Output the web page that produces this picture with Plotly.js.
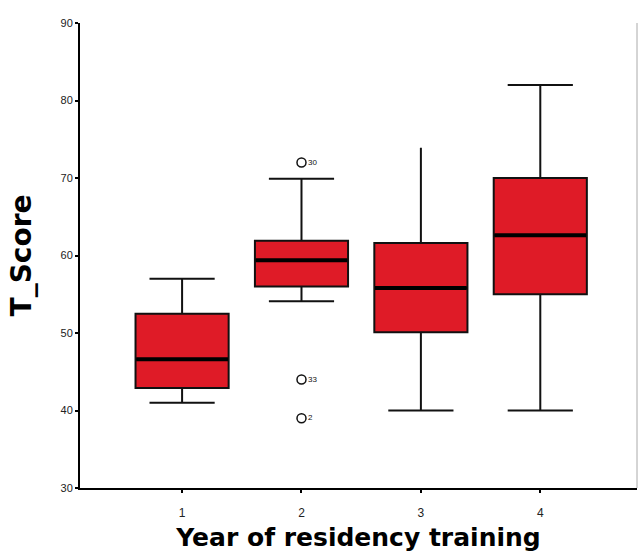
<!DOCTYPE html>
<html>
<head>
<meta charset="utf-8">
<script src="https://cdn.plot.ly/plotly-3.0.1.min.js"></script>
<style>html,body{margin:0;padding:0;background:#fff;}#chart{width:640px;height:559px;}</style>
</head>
<body>
<div id="chart"></div>
<script>
// Data
const categories = [1, 2, 3, 4];
const tickLabels = ['1', '2', '3', '4'];
const q1 = [42.9, 56.0, 50.1, 55.0];
const medians = [46.6, 59.4, 55.8, 62.6];
const q3 = [52.5, 61.9, 61.6, 70.0];
const lowerFence = [41.0, 54.1, 40.0, 40.0];
const upperFence = [57.0, 69.9, 73.9, 82.0];
const hasTopCap = [true, true, false, true];

const outlierX = [2, 2, 2];
const outlierY = [72.0, 44.0, 39.0];
const outlierLabels = ['30', '33', '2'];

const RED = '#df1b27';
const BOXW = 0.78;
const TITLE_FONT = 'DejaVu Sans, Liberation Sans, Arial, sans-serif';
const traces = [];

categories.forEach((c, i) => {
  const top = hasTopCap[i] ? upperFence[i] : q3[i];
  traces.push({
    type: 'box', x: [c], q1: [q1[i]], median: [medians[i]], q3: [q3[i]],
    lowerfence: [lowerFence[i]], upperfence: [top],
    width: BOXW, whiskerwidth: 0.7,
    fillcolor: RED, line: {color: '#111', width: 2},
    showlegend: false, hoverinfo: 'skip'
  });
  if (!hasTopCap[i]) {
    // whisker without a cap
    traces.push({
      type: 'box', x: [c], q1: [q3[i]], median: [q3[i]], q3: [q3[i]],
      lowerfence: [q3[i]], upperfence: [upperFence[i]],
      width: BOXW, whiskerwidth: 0,
      fillcolor: 'rgba(0,0,0,0)', line: {color: '#111', width: 2},
      showlegend: false, hoverinfo: 'skip'
    });
  }
  // thick median line
  traces.push({
    type: 'box', x: [c], q1: [medians[i]], median: [medians[i]], q3: [medians[i]],
    lowerfence: [medians[i]], upperfence: [medians[i]],
    width: BOXW * 0.985, whiskerwidth: 0,
    fillcolor: 'rgba(0,0,0,0)', line: {color: '#000', width: 4},
    showlegend: false, hoverinfo: 'skip'
  });
});

traces.push({
  type: 'scatter', mode: 'markers+text', x: outlierX, y: outlierY,
  text: outlierLabels, textposition: 'middle right',
  textfont: {family: 'Liberation Sans, Arial, sans-serif', size: 8, color: '#111'},
  marker: {symbol: 'circle-open', size: 9, color: '#111', line: {width: 1.5}},
  showlegend: false, hoverinfo: 'skip', cliponaxis: false
});

const layout = {
  width: 640, height: 559,
  margin: {l: 80, r: 3, t: 23, b: 71},
  paper_bgcolor: '#fff', plot_bgcolor: '#fff',
  boxmode: 'overlay',
  showlegend: false,
  font: {family: 'Liberation Sans, Arial, sans-serif', color: '#111'},
  xaxis: {
    type: 'linear', range: [0.145, 4.81],
    tickvals: categories, ticktext: tickLabels,
    showline: true, linecolor: '#000', linewidth: 2,
    ticks: 'outside', ticklen: 3, tickwidth: 2, tickcolor: '#000',
    ticklabelstandoff: 10,
    showgrid: false, zeroline: false,
    tickfont: {size: 12, color: '#222'},
    title: {text: 'Year of residency training', standoff: 9,
            font: {size: 25, color: '#000', family: TITLE_FONT, weight: 'bold'}}
  },
  yaxis: {
    range: [30, 90], tickvals: [30, 40, 50, 60, 70, 80, 90],
    showline: true, linecolor: '#000', linewidth: 2,
    ticks: 'outside', ticklen: 3, tickwidth: 2, tickcolor: '#000',
    showgrid: false, zeroline: false,
    tickfont: {size: 11, color: '#222'},
    title: {text: 'T_Score', standoff: 21,
            font: {size: 28, color: '#000', family: TITLE_FONT, weight: 'bold'}}
  },
  shapes: [{type: 'line', xref: 'paper', yref: 'paper', x0: 1, x1: 1, y0: 0, y1: 1,
            line: {color: '#aaa', width: 1}}]
};

Plotly.newPlot('chart', traces, layout, {staticPlot: true, displayModeBar: false});
</script>
</body>
</html>
